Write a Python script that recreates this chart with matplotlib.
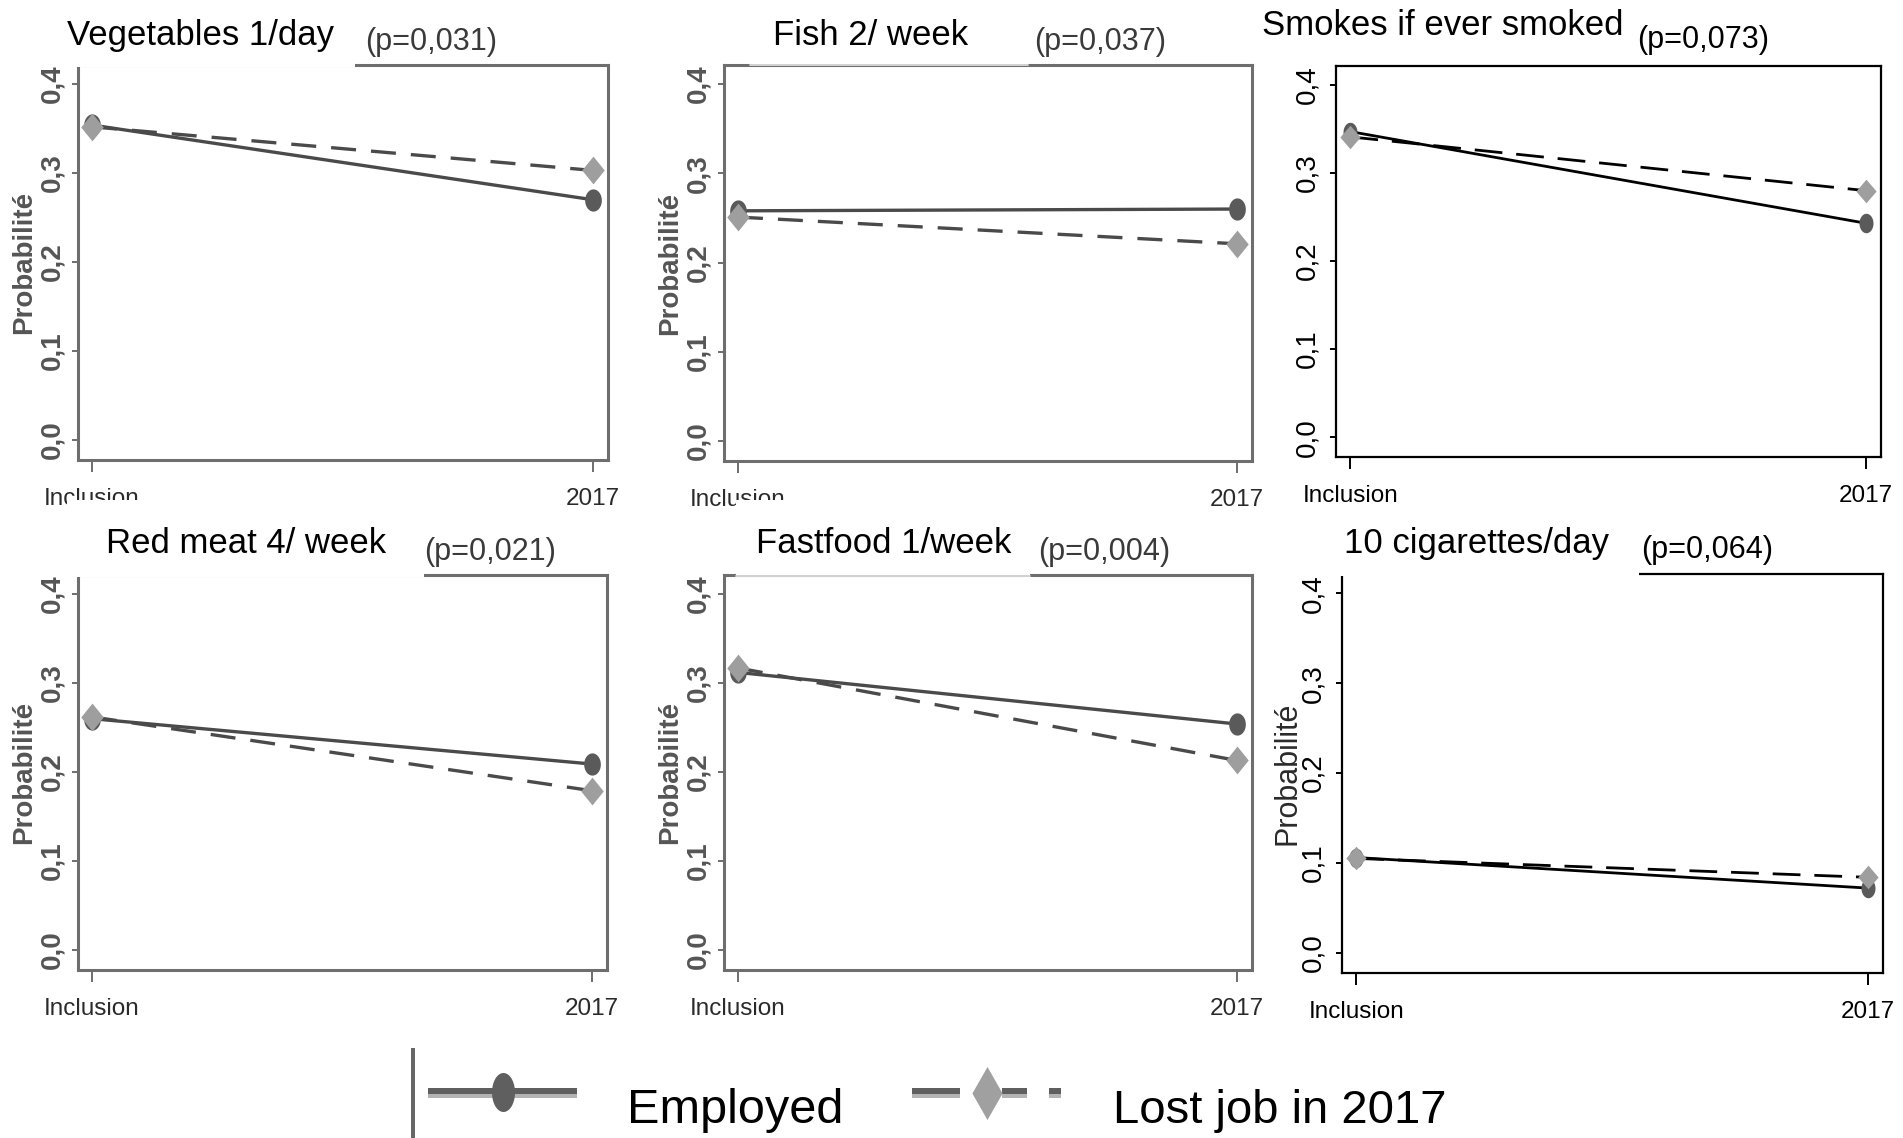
import numpy as np
import matplotlib
matplotlib.use("Agg")
import matplotlib.pyplot as plt
from matplotlib.path import Path
from matplotlib.lines import Line2D
from matplotlib.patches import Rectangle

plt.rcParams["font.family"] = ["Liberation Sans", "DejaVu Sans"]
plt.rcParams["lines.scale_dashes"] = False

# ---------------------------------------------------------------- data
periods = ["Inclusion", "2017"]
titles = ["Vegetables 1/day", "Fish 2/ week", "Smokes if ever smoked",
          "Red meat 4/ week", "Fastfood 1/week", "10 cigarettes/day"]
p_values = ["(p=0,031)", "(p=0,037)", "(p=0,073)",
            "(p=0,021)", "(p=0,004)", "(p=0,064)"]

employed_vegetables = [0.354, 0.270]
lost_vegetables = [0.352, 0.303]
employed_fish = [0.258, 0.260]
lost_fish = [0.251, 0.221]
employed_smokes = [0.347, 0.243]
lost_smokes = [0.341, 0.280]
employed_redmeat = [0.260, 0.209]
lost_redmeat = [0.262, 0.179]
employed_fastfood = [0.312, 0.254]
lost_fastfood = [0.317, 0.213]
employed_cigarettes = [0.106, 0.072]
lost_cigarettes = [0.105, 0.084]

employed = [employed_vegetables, employed_fish, employed_smokes,
            employed_redmeat, employed_fastfood, employed_cigarettes]
lost = [lost_vegetables, lost_fish, lost_smokes,
        lost_redmeat, lost_fastfood, lost_cigarettes]

y_ticks = [0.0, 0.1, 0.2, 0.3, 0.4]
y_tick_labels = ["0,0", "0,1", "0,2", "0,3", "0,4"]
legend_labels = ["Employed", "Lost job in 2017"]

# ---------------------------------------------------------------- layout (pixels)
W, H = 1903, 1138
PT = 72 / 100  # points per pixel at dpi 100

def fx(x):
    return x / W

def fy(y):
    return 1 - y / H

def rect(l, t, r, b):
    return [l / W, 1 - b / H, (r - l) / W, (b - t) / H]

boxes = [(78, 65, 608, 460), (724, 65, 1252, 461), (1336, 66, 1881, 457),
         (78, 575, 607, 970), (724, 575, 1252, 970), (1342, 574, 1883, 973)]
title_pos = [(67, 45), (773, 45), (1262, 35), (106, 553), (756, 553), (1344, 553)]
pval_pos = [(365, 50), (1034, 50), (1637, 48), (424, 560), (1038, 560), (1641, 558)]
ylabel_x = [24, 670, None, 24, 670, 1288]
# stata-like grey panels vs. crisp black panels
crisp = [False, False, True, False, False, True]

# marker shapes (slightly tall ellipse / diamond)
t = np.linspace(0, 2 * np.pi, 64)
def ellipse(ratio):
    return Path(np.column_stack([ratio * np.cos(t), np.sin(t)]), closed=True)

def diamond(ratio):
    return Path([(0, 1), (ratio, 0), (0, -1), (-ratio, 0), (0, 1)], closed=True)

fig = plt.figure(figsize=(W / 100, H / 100), dpi=100)
fig.patch.set_facecolor("white")

for i in range(6):
    ax = fig.add_axes(rect(*boxes[i]))
    x = np.arange(len(periods))
    if crisp[i]:
        line_c, lw, dash = "black", 2.0, (20, 10)
        spine_c, spine_w = "black", 1.6
        tick_c, tick_w = "black", "normal"
        c_mk, c_ms, d_mk, d_ms = ellipse(0.72), 14, diamond(0.86), 17
    else:
        line_c, lw, dash = "#4a4a4a", 2.4, (18, 10.8)
        spine_c, spine_w = "#6e6e6e", 2.2
        tick_c, tick_w = "#555555", "bold"
        c_mk, c_ms, d_mk, d_ms = ellipse(0.75), 16, diamond(0.81), 20

    ax.plot(x, employed[i], color=line_c, lw=lw, solid_capstyle="butt",
            marker=c_mk, markersize=c_ms, markerfacecolor="#5a5a5a",
            markeredgewidth=0, zorder=3)
    ax.plot(x, lost[i], color=line_c, lw=lw, dashes=dash,
            marker=d_mk, markersize=d_ms, markerfacecolor="#9e9e9e",
            markeredgewidth=0, zorder=4)

    ax.set_xlim(-0.028, 1.03)
    ax.set_ylim(-0.0225, 0.4215)
    ax.set_xticks(x)
    ax.set_xticklabels(periods)
    ax.set_yticks(y_ticks)
    ax.set_yticklabels(y_tick_labels)

    for s in ax.spines.values():
        s.set_color(spine_c)
        s.set_linewidth(spine_w)

    ax.tick_params(axis="y", direction="out", length=6 * PT, width=1.4,
                   color=spine_c, pad=7 * PT if not crisp[i] else 10 * PT,
                   labelrotation=90, labelsize=20, labelcolor=tick_c)
    ax.tick_params(axis="x", direction="out", length=12 * PT, width=1.4,
                   color=spine_c, pad=16 * PT, labelsize=17.5,
                   labelcolor="#2a2a2a" if not crisp[i] else "black")
    for lab in ax.get_yticklabels():
        lab.set_fontweight(tick_w)
        lab.set_va("center")

    if ylabel_x[i] is not None:
        cy = (boxes[i][1] + boxes[i][3]) / 2
        if crisp[i]:
            fig.text(fx(ylabel_x[i]), fy(cy), "Probabilité", rotation=90,
                     ha="center", va="center", fontsize=22, color="#2a2a2a")
        else:
            fig.text(fx(ylabel_x[i]), fy(cy), "Probabilité", rotation=90,
                     ha="center", va="center", fontsize=20, fontweight="bold",
                     color="#555555")

# white title boxes laid over the frames
title_boxes = [((0, 0, 355, 67), None), ((750, 0, 1028, 66), "#c8c8c8"),
               ((67, 500, 424, 577), None), ((736, 500, 1030, 577), "#c8c8c8"),
               ((1290, 502, 1639, 576), None)]
for (l, tp, r, b), edge in title_boxes:
    fig.add_artist(Rectangle((fx(l), fy(b)), (r - l) / W, (b - tp) / H,
                             transform=fig.transFigure, facecolor="white",
                             edgecolor="none", zorder=5))
    if edge:
        fig.add_artist(Line2D([fx(l), fx(r)], [fy(b - 1.5), fy(b - 1.5)],
                              transform=fig.transFigure, color=edge, lw=1.2,
                              zorder=6))

for i in range(6):
    fig.text(fx(title_pos[i][0]), fy(title_pos[i][1]), titles[i],
             ha="left", va="baseline", fontsize=25, color="black", zorder=10)
    fig.text(fx(pval_pos[i][0]), fy(pval_pos[i][1]), p_values[i],
             ha="left", va="baseline", fontsize=22,
             color="black" if crisp[i] else "#3a3a3a", zorder=10)

# ---------------------------------------------------------------- legend
def fig_line(xs, ys, **kw):
    fig.add_artist(Line2D([fx(v) for v in xs], [fy(v) for v in ys],
                          transform=fig.transFigure, zorder=8, **kw))

fig_line([413, 413], [1050, 1138], color="#666666", lw=4 * PT)
# Employed
fig_line([428, 577], [1096, 1096], color="#b3b3b3", lw=4 * PT, solid_capstyle="butt")
fig_line([428, 577], [1091, 1091], color="#5f5f5f", lw=6 * PT, solid_capstyle="butt")
fig_line([503], [1092], color="#5f5f5f", lw=0, marker=ellipse(0.59),
         markersize=39 * PT, markeredgewidth=0)
# Lost job in 2017
for a, b in [(912, 960), (1002, 1027), (1049, 1061)]:
    fig_line([a, b], [1095.5, 1095.5], color="#b3b3b3", lw=4 * PT, solid_capstyle="butt")
    fig_line([a, b], [1090.5, 1090.5], color="#5f5f5f", lw=6 * PT, solid_capstyle="butt")
fig_line([987], [1093], color="#a0a0a0", lw=0, marker=diamond(0.57),
         markersize=53 * PT, markeredgewidth=0)

fig.text(fx(627), fy(1123), legend_labels[0], ha="left", va="baseline",
         fontsize=35, color="black", zorder=10)
fig.text(fx(1113), fy(1123), legend_labels[1], ha="left", va="baseline",
         fontsize=34, color="black", zorder=10)

fig.savefig("out.png", dpi=100, facecolor="white")
